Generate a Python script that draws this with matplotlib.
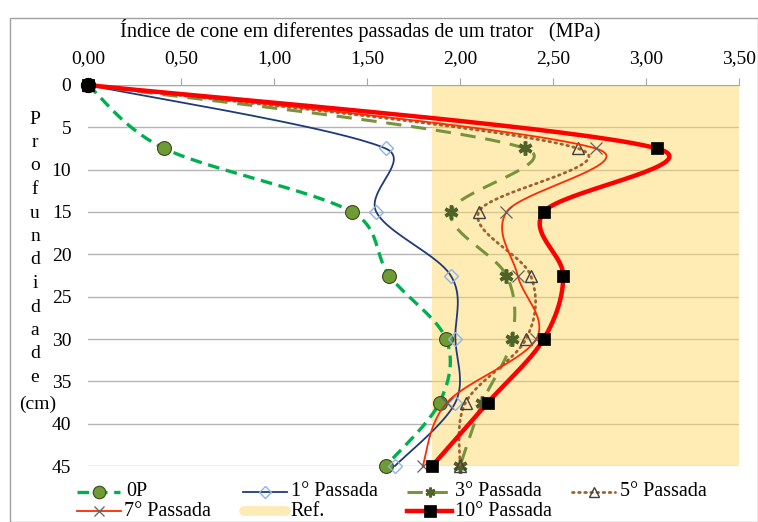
import numpy as np
import matplotlib
matplotlib.use("Agg")
import matplotlib.pyplot as plt
from matplotlib.lines import Line2D
from matplotlib.patches import Rectangle

plt.rcParams['font.family'] = ['Liberation Serif', 'DejaVu Serif']

# ---------------- data ----------------
depth = [0, 7.5, 15, 22.5, 30, 37.5, 45]
p0 = [0.00, 0.41, 1.42, 1.62, 1.925, 1.89, 1.60]
p1 = [0.00, 1.60, 1.55, 1.95, 1.975, 1.975, 1.65]
p3 = [0.00, 2.35, 1.95, 2.25, 2.28, 2.12, 2.00]
p5 = [0.00, 2.635, 2.10, 2.38, 2.355, 2.03, 2.00]
p7 = [0.00, 2.73, 2.25, 2.31, 2.41, 1.93, 1.80]
p10 = [0.00, 3.06, 2.45, 2.555, 2.45, 2.15, 1.85]
ref_range = [1.85, 3.50]
series_names = ["0P", "1° Passada", "3° Passada", "5° Passada", "7° Passada", "Ref.", "10° Passada"]
xticks = [0, 0.5, 1.0, 1.5, 2.0, 2.5, 3.0, 3.5]
xticklabels = ["0,00", "0,50", "1,00", "1,50", "2,00", "2,50", "3,00", "3,50"]
yticks = [0, 5, 10, 15, 20, 25, 30, 35, 40, 45]
title = "Índice de cone em diferentes passadas de um trator   (MPa)"
ylabel_word = "Profundidade"
ylabel_unit = "(cm)"

W, H = 758, 522
AX_L, AX_R, AX_T, AX_B = 88, 739, 85, 466
SX = (AX_R - AX_L) / 3.5      # px per MPa
SY = (AX_B - AX_T) / 45.0     # px per cm


def smooth(xs, ys, n=40, f=1 / 6.0, clamp=0.45):
    """Excel-like smoothed line: cubic Bezier through points, computed in pixel space."""
    P = np.column_stack([np.asarray(xs, float) * SX, np.asarray(ys, float) * SY])
    out = [P[0]]
    for i in range(len(P) - 1):
        pa = P[i - 1] if i > 0 else P[i]
        p1_ = P[i]
        p2_ = P[i + 1]
        pb = P[i + 2] if i + 2 < len(P) else P[i + 1]
        seg = np.linalg.norm(p2_ - p1_)
        a1 = (p2_ - pa) * f
        a2 = (pb - p1_) * f
        for a in (a1, a2):
            L = np.linalg.norm(a)
            if L > clamp * seg and L > 0:
                a *= clamp * seg / L
        c1 = p1_ + a1
        c2 = p2_ - a2
        t = np.linspace(0, 1, n)[1:, None]
        s = ((1 - t) ** 3) * p1_ + 3 * ((1 - t) ** 2) * t * c1 + 3 * (1 - t) * t ** 2 * c2 + t ** 3 * p2_
        out.extend(s)
    out = np.array(out)
    return out[:, 0] / SX, out[:, 1] / SY


fig = plt.figure(figsize=(W / 100, H / 100), dpi=100)
ax = fig.add_axes([AX_L / W, 1 - AX_B / H, (AX_R - AX_L) / W, (AX_B - AX_T) / H])
ax.set_xlim(0, 3.5)
ax.set_ylim(45, 0)

for y in yticks:
    ax.axhline(y, color="#B4B4B4", lw=1.0, zorder=0)

band_color = "#FFD966"
ax.axvspan(ref_range[0], ref_range[1], color=band_color, alpha=0.48, lw=0, zorder=1)

styles = {
    "0P": dict(color="#00B050", lw=2.4, dashes=(3.5, 2.0), marker="o", ms=10,
               mfc="#6F9B35", mec="#3A4A1A", mew=0.8),
    "1° Passada": dict(color="#1F3A7A", lw=1.3, marker="D", ms=7, mfc="none",
                      mec="#8EB4E3", mew=1.0),
    "3° Passada": dict(color="#77933C", lw=2.2, dashes=(5.0, 3.2), marker=(6, 2, 0), ms=10,
                      mfc="#4F6228", mec="#4F6228", mew=2.5),
    "5° Passada": dict(color="#A0622D", lw=2.0, dashes=(0.6, 1.6), dash_capstyle="round",
                      marker="^", ms=8, mfc="none", mec="#404040", mew=1.0),
    "7° Passada": dict(color="#FF2A00", lw=1.3, marker="x", ms=9, mfc="none",
                      mec="#606060", mew=0.9),
    "10° Passada": dict(color="#FF0000", lw=3.2, marker="s", ms=9, mfc="black",
                       mec="black", mew=0.5),
}
legend_ms = {"0P": 9, "1° Passada": 6.5, "3° Passada": 7, "5° Passada": 6.5,
             "7° Passada": 7, "10° Passada": 8}
data = {"0P": p0, "1° Passada": p1, "3° Passada": p3, "5° Passada": p5,
        "7° Passada": p7, "10° Passada": p10}
LINE_KEYS = ("color", "lw", "dashes", "dash_capstyle")
MARK_KEYS = ("marker", "ms", "mfc", "mec", "mew")

z = 3
for name in ["0P", "1° Passada", "3° Passada", "5° Passada", "7° Passada", "10° Passada"]:
    st = styles[name]
    xs, ys = smooth(data[name], depth)
    ax.plot(xs, ys, zorder=z, clip_on=False, **{k: v for k, v in st.items() if k in LINE_KEYS})
    ax.plot(data[name], depth, ls="none", zorder=z + 0.5, clip_on=False,
            **{k: v for k, v in st.items() if k in MARK_KEYS})
    z += 1

ax.plot(p0[0], depth[0], ls="none", marker="o", ms=10, mfc="black", mec="black",
        zorder=20, clip_on=False)

for s in ["left", "right", "bottom"]:
    ax.spines[s].set_visible(False)
ax.spines["top"].set_color("#A6A6A6")
ax.xaxis.tick_top()
ax.set_xticks(xticks)
ax.set_xticklabels(xticklabels)
ax.tick_params(axis="x", direction="out", length=5, color="#A6A6A6", pad=8, labelsize=14)
ax.set_yticks(yticks)
ax.set_yticklabels([str(v) for v in yticks])
ax.tick_params(axis="y", length=0, pad=12, labelsize=14)

fig.text(360 / W, 1 - 30 / H, title, ha="center", va="center", fontsize=14.6)

y0 = 119
for i, ch in enumerate(ylabel_word):
    fig.text(35 / W, 1 - (y0 + i * 23.5) / H, ch, ha="center", va="center", fontsize=14)
fig.text(38 / W, 1 - 404 / H, ylabel_unit, ha="center", va="center", fontsize=14)

# ---- manual legend (figure pixel positions) ----
legend_layout = {
    "0P": (77, 120, 126, 492),
    "1° Passada": (243, 287, 291, 492),
    "3° Passada": (407, 452, 455, 492),
    "5° Passada": (572, 615, 620, 492),
    "7° Passada": (77, 121, 124, 511),
    "Ref.": (244, 286, 290, 511),
    "10° Passada": (407, 452, 455, 511),
}
for name in series_names:
    x0, x1, xt, yr = legend_layout[name]
    yy = 1 - yr / H
    if name == "Ref.":
        fig.add_artist(Line2D([x0 / W, x1 / W], [yy, yy], transform=fig.transFigure,
                              color="#FEEAB5", lw=7, solid_capstyle="round"))
    else:
        st = dict(styles[name])
        st["ms"] = legend_ms[name]
        if name == "3° Passada":
            st["mew"] = 2.0
        fig.add_artist(Line2D([x0 / W, x1 / W], [yy, yy], transform=fig.transFigure,
                              **{k: v for k, v in st.items() if k in LINE_KEYS}))
        fig.add_artist(Line2D([(x0 + x1) / 2 / W], [yy], transform=fig.transFigure, ls="none",
                              **{k: v for k, v in st.items() if k in MARK_KEYS}))
    fig.text(xt / W, yy, name, ha="left", va="center", fontsize=14.5)

fig.patches.append(Rectangle((10 / W, 0.5 / H), (W - 10.5) / W, (H - 18.5) / H,
                             transform=fig.transFigure, fill=False, ec="#A0A0A0", lw=1.0))

fig.savefig("out.png", dpi=100)
